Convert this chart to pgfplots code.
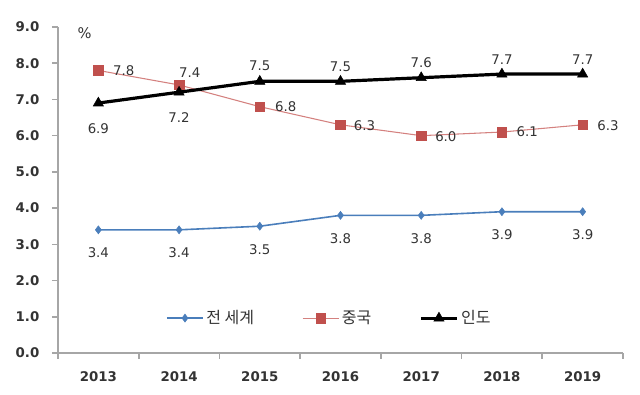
\documentclass[border=0pt]{standalone}
\usepackage{fontspec}
\setmainfont{DejaVu Sans}
\newfontfamily\kr{Noto Sans CJK KR}
\usepackage{pgfplots}
\pgfplotsset{compat=1.18}
\definecolor{wblue}{HTML}{4A7EBB}
\definecolor{cred}{HTML}{C0504D}
\definecolor{cline}{HTML}{D4817F}
\definecolor{axgray}{HTML}{A6A6A6}
\definecolor{txt}{HTML}{333333}
\begin{document}
\begin{tikzpicture}
\begin{axis}[name=ax, scale only axis, width=423.75pt, height=244.5pt,
  xmin=-0.5, xmax=6.5, ymin=0, ymax=9,
  xtick={-0.5,0.5,1.5,2.5,3.5,4.5,5.5,6.5}, x tick label as interval,
  xticklabels={2013,2014,2015,2016,2017,2018,2019},
  ytick={0,1,2,3,4,5,6,7,8,9},
  tick align=outside, major tick length=4.5pt,
  axis x line*=bottom, axis y line*=left,
  axis line style={axgray, line width=1.2pt, -},
  every tick/.style={axgray, line width=1.2pt},
  /pgf/number format/.cd, fixed, fixed zerofill, precision=1, assume math mode=true, /pgfplots/.cd,
  ticklabel style={text=txt, font=\fontsize{10}{12}\selectfont},
  xticklabel style={font=\bfseries\fontsize{10}{12}\selectfont, yshift=-6pt},
  yticklabel style={xshift=-6pt, font=\bfseries\fontsize{10}{12}\selectfont},
  clip=false,
  legend columns=3,
  legend style={draw=none, fill=none, at={(rel axis cs:0.481,0.107)}, anchor=center,
    font=\kr\fontsize{12}{14}\selectfont, text=txt,
    /tikz/every even column/.append style={column sep=34pt},
    /tikz/every odd column/.append style={column sep=0pt}},
  legend image code/.code={\draw[mark repeat=2,mark phase=2,#1] plot coordinates {(0pt,0pt)(13.5pt,0pt)(27pt,0pt)};},
  every node near coord/.append style={text=txt, font=\fontsize{10}{12}\selectfont},
  visualization depends on={value \thisrow{anc}\as\anc},
  visualization depends on={\thisrow{dx}\as\dx},
  visualization depends on={\thisrow{dy}\as\dy},
]
\addplot[wblue, line width=1.2pt, mark=diamond*, mark size=3pt, mark options={solid, line width=0.4pt},
  nodes near coords, every node near coord/.append style={anchor=\anc, xshift=\dx pt, yshift=\dy pt}]
  table[x=x, y=y] {
x y anc dx dy
0 3.4 north 0 -10
1 3.4 north 0 -10
2 3.5 north 0 -10
3 3.8 north 0 -10
4 3.8 north 0 -10
5 3.9 north 0 -10
6 3.9 north 0 -10
};
\addlegendentry{전 세계}
\addplot[cline, line width=0.8pt, mark=square*, mark size=3.6pt, mark options={solid, draw=cred, fill=cred, line width=0.4pt},
  nodes near coords, every node near coord/.append style={anchor=\anc, xshift=\dx pt, yshift=\dy pt}]
  table[x=x, y=y] {
x y anc dx dy
0 7.8 west 7.5 0
1 7.4 south 8 2
2 6.8 west 8 0
3 6.3 west 6.5 -1
4 6.0 west 7 -1
5 6.1 west 7.5 0
6 6.3 west 7.5 -1
};
\addlegendentry{중국}
\addplot[black, line width=2.4pt, mark=triangle*, mark size=4.4pt, mark options={solid, line width=0.4pt},
  nodes near coords, every node near coord/.append style={anchor=\anc, xshift=\dx pt, yshift=\dy pt}]
  table[x=x, y=y] {
x y anc dx dy
0 6.9 north 0 -11.5
1 7.2 north 0 -11.5
2 7.5 south 0 4.5
3 7.5 south 0 3.5
4 7.6 south 0 4
5 7.7 south 0 4
6 7.7 south 0 4
};
\addlegendentry{인도}
\node[text=txt, font=\fontsize{11}{12}\selectfont] at (axis cs:-0.17,8.82) {\%};
\end{axis}
\path[use as bounding box] ([xshift=-43.5pt,yshift=-31.5pt]ax.south west) rectangle ([xshift=12.75pt,yshift=20.25pt]ax.north east);
\end{tikzpicture}
\end{document}
